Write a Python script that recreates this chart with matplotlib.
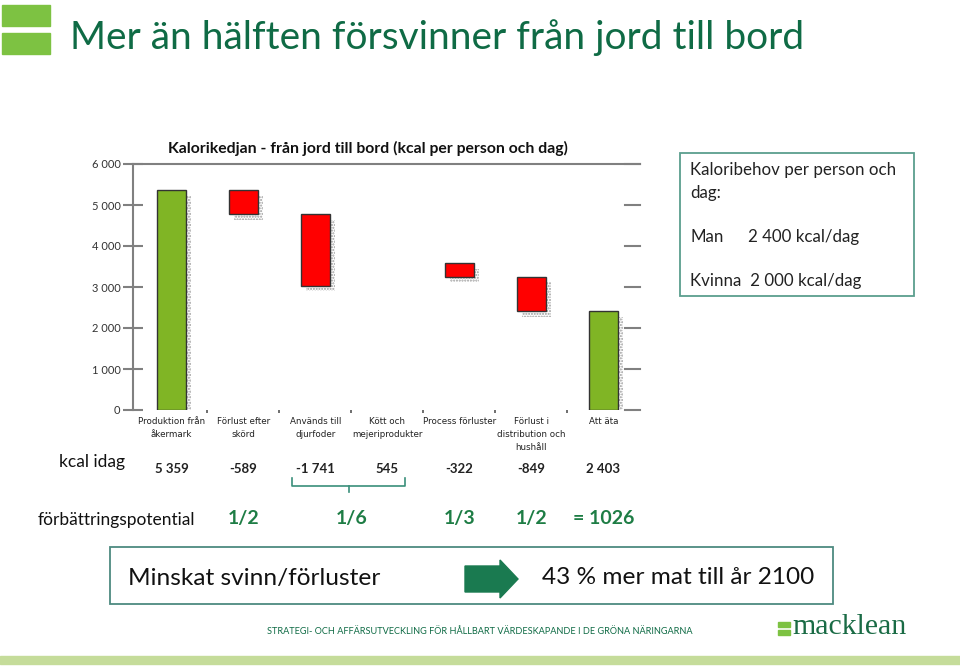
import matplotlib
matplotlib.use("Agg")
import matplotlib.pyplot as plt
from matplotlib.patches import Rectangle, Polygon
from matplotlib.ticker import FuncFormatter, FixedLocator

plt.rcParams['font.family'] = ['Lato', 'DejaVu Sans']

# data
categories = ["Produktion från\nåkermark", "Förlust efter\nskörd", "Används till\ndjurfoder",
              "Kött och\nmejeriprodukter", "Process förluster", "Förlust i\ndistribution och\nhushåll",
              "Att äta"]
values = [5359, -589, -1741, 545, -322, -849, 2403]
value_labels = ["5 359", "-589", "-1 741", "545", "-322", "-849", "2 403"]
is_total = [True, False, False, False, False, False, True]
potential_pos = [1, 2.5, 4, 5, 6]
potential_labels = ["1/2", "1/6", "1/3", "1/2", "= 1026"]

bar_colors = ["#80b525", "#ff0000", "#ff0000", "none", "#ff0000", "#ff0000", "#80b525"]
DARK_GREEN = "#0f6b45"
NUM_GREEN = "#1e7d45"

W, H = 960, 670
fig = plt.figure(figsize=(9.6, 6.7), dpi=100)


def fx(x):
    return x / W


def fy(y):
    return 1 - y / H


# axes placed in pixel terms
ax = fig.add_axes([fx(133), fy(410), fx(640) - fx(133), fy(164) - fy(410)])

# waterfall bottoms
bottoms, heights = [], []
running = 0
for v, tot in zip(values, is_total):
    if tot:
        bottoms.append(0)
        heights.append(v)
        running = v
    else:
        new = running + v
        bottoms.append(min(running, new))
        heights.append(abs(v))
        running = new

xs = list(range(len(values)))
bw = 0.41
# dotted shadows
for x, b, h, c in zip(xs, bottoms, heights, bar_colors):
    if c == "none":
        continue
    ax.bar(x + 0.07, h, bw, bottom=b - 130, facecolor="white", edgecolor="#9a9a9a",
           hatch="......", linewidth=0, zorder=1)
for x, b, h, c in zip(xs, bottoms, heights, bar_colors):
    if c == "none":
        continue
    ax.bar(x, h, bw, bottom=b, color=c, edgecolor="#333333", linewidth=1.0, zorder=2)

ax.set_xlim(-0.535, 6.51)
ax.set_ylim(0, 6000)
ax.yaxis.set_major_locator(FixedLocator(range(0, 6001, 1000)))
ax.yaxis.set_major_formatter(FuncFormatter(lambda v, p: f"{int(v):,}".replace(",", " ")))
ax.tick_params(axis="y", direction="inout", length=14, width=1.5, color="#808080",
               labelsize=8, labelcolor="#333333", pad=2)
ax.set_xticks([i + 0.5 for i in range(6)])
ax.set_xticklabels([])
ax.tick_params(axis="x", direction="out", length=2, width=1.2, color="#555555")
for s in ["bottom", "right"]:
    ax.spines[s].set_visible(False)
for s in ["left", "top"]:
    ax.spines[s].set_color("#808080")
    ax.spines[s].set_linewidth(1.5)
# right ticks drawn inward only
for v in range(0, 6001, 1000):
    ax.plot([6.3, 6.51], [v, v], color="#808080", lw=1.5, clip_on=False, zorder=3)

trans = ax.get_xaxis_transform()
for x, lab in zip(xs, categories):
    ax.text(x, -0.03, lab, transform=trans, ha="center", va="top", fontsize=6.3,
            family=["DejaVu Sans"], color="#222222", linespacing=1.55)
for x, lab in zip(xs, value_labels):
    ax.text(x, -0.24, lab, transform=trans, ha="center", va="center", fontsize=9.5,
            fontweight="bold", color="#222222")
for x, lab in zip(potential_pos, potential_labels):
    ax.text(x, -0.44, lab, transform=trans, ha="center", va="center", fontsize=14,
            fontweight="bold", color=NUM_GREEN)

# bracket under -1741 and 545
bx0, bx1 = 1.68, 3.25
ax.plot([bx0, bx0, bx1, bx1], [-0.276, -0.31, -0.31, -0.276], transform=trans,
        color="#3a8f7a", lw=1.2, clip_on=False)
ax.plot([(bx0 + bx1) / 2] * 2, [-0.31, -0.335], transform=trans,
        color="#3a8f7a", lw=1.2, clip_on=False)

fig.text(fx(368), fy(148), "Kalorikedjan - från jord till bord (kcal per person och dag)",
         fontsize=11.3, fontweight="bold", color="#111111", ha="center", va="center")

# page header
fig.patches.append(Rectangle((fx(2), fy(26)), fx(48), 21 / H, transform=fig.transFigure,
                             color="#7dc242"))
fig.patches.append(Rectangle((fx(2), fy(54)), fx(48), 21 / H, transform=fig.transFigure,
                             color="#7dc242"))
fig.text(fx(70), fy(38), "Mer än hälften försvinner från jord till bord", fontsize=28,
         color=DARK_GREEN, va="center", ha="left")

# info box
fig.patches.append(Rectangle((fx(680), fy(296)), fx(234), 143 / H, transform=fig.transFigure,
                             facecolor="white", edgecolor="#5a9e8e", lw=1.3))
fs_box = 12.2
fig.text(fx(690), fy(170), "Kaloribehov per person och", fontsize=fs_box, color="#222222",
         va="center")
fig.text(fx(690), fy(193), "dag:", fontsize=fs_box, color="#222222", va="center")
fig.text(fx(690), fy(237), "Man", fontsize=fs_box, color="#222222", va="center")
fig.text(fx(748), fy(237), "2 400 kcal/dag", fontsize=fs_box, color="#222222", va="center")
fig.text(fx(690), fy(281), "Kvinna  2 000 kcal/dag", fontsize=fs_box, color="#222222", va="center")

fig.text(fx(125), fy(462), "kcal idag", fontsize=12.5, color="#111111", ha="right", va="center")
fig.text(fx(38), fy(520), "förbättringspotential", fontsize=12.5, color="#111111", va="center")

# bottom box with arrow
fig.patches.append(Rectangle((fx(110), fy(604)), fx(723), 57 / H, transform=fig.transFigure,
                             facecolor="white", edgecolor="#4d8a80", lw=1.3))
fig.text(fx(128), fy(578), "Minskat svinn/förluster", fontsize=17.6, color="#111111", va="center")
fig.text(fx(542), fy(578), "43 % mer mat till år 2100", fontsize=17.6, color="#111111", va="center")
arrow = [(465, 566), (500, 566), (500, 560), (518, 579), (500, 598), (500, 592), (465, 592)]
fig.patches.append(Polygon([(fx(a), fy(b)) for a, b in arrow], closed=True,
                           transform=fig.transFigure, color="#1a7a50"))

# footer
fig.text(fx(480), fy(631), "STRATEGI- OCH AFFÄRSUTVECKLING FÖR HÅLLBART VÄRDESKAPANDE I DE GRÖNA NÄRINGARNA",
         fontsize=6.6, color=DARK_GREEN, ha="center", va="center")
fig.patches.append(Rectangle((fx(778), fy(627)), fx(12), 5 / H, transform=fig.transFigure,
                             color="#7dc242"))
fig.patches.append(Rectangle((fx(778), fy(635)), fx(12), 5 / H, transform=fig.transFigure,
                             color="#7dc242"))
fig.text(fx(792), fy(627), "macklean", fontsize=21.5, family=["Liberation Serif"],
         color="#1a6b45", va="center")
fig.patches.append(Rectangle((0, fy(664)), 1, 8 / H, transform=fig.transFigure,
                             color="#c5dc9a"))

fig.savefig("out.png", dpi=100, facecolor="white")
